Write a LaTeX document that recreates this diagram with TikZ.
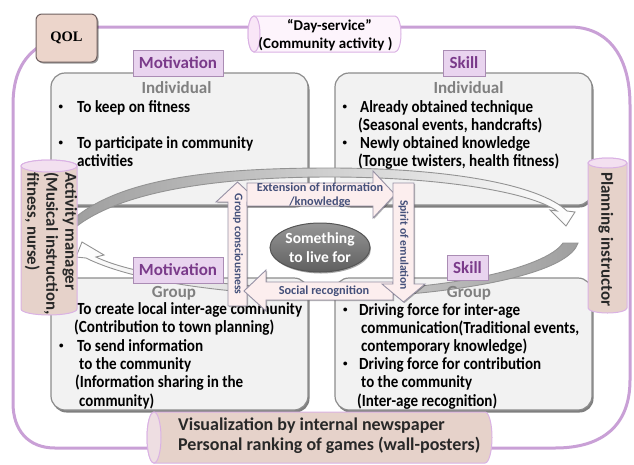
\documentclass[tikz,border=0pt]{standalone}
\usepackage{fontspec}
\usepackage{graphicx}
\setmainfont{Carlito}[BoldFont={Carlito Bold}]
\newfontfamily\qolfont{Liberation Serif}
\usetikzlibrary{shapes.geometric,shadows}
\definecolor{qolc}{RGB}{201,160,214}
\definecolor{boxfill}{RGB}{242,242,242}
\definecolor{boxdraw}{RGB}{140,140,140}
\definecolor{labfill}{RGB}{233,212,239}
\definecolor{labdraw}{RGB}{170,140,180}
\definecolor{labtext}{RGB}{122,58,138}
\definecolor{cylfill}{RGB}{230,210,202}
\definecolor{cylcap}{RGB}{243,224,240}
\definecolor{cyledge}{RGB}{218,178,228}
\definecolor{dayfill}{RGB}{253,244,252}
\definecolor{arrfill}{RGB}{252,238,238}
\definecolor{arrdraw}{RGB}{150,145,165}
\definecolor{arrtext}{RGB}{68,80,122}
\definecolor{qolfill}{RGB}{236,213,203}
\definecolor{qoldraw}{RGB}{110,95,95}
\definecolor{ttl}{RGB}{128,128,128}
\definecolor{dark}{RGB}{40,40,40}
\newcommand{\fw}[2]{\resizebox{#1pt}{\height}{#2}}
\newcommand{\bul}{\raisebox{2.5pt}{\fontsize{9}{9}\selectfont •}}
\tikzset{
  bigbox/.style={draw=boxdraw, line width=1.2pt, fill=boxfill, rounded corners=14pt,
    drop shadow={shadow xshift=1.5pt, shadow yshift=-2.5pt, fill=black, opacity=0.5}},
  lbl/.style={draw=labdraw, line width=1pt, fill=labfill, text=labtext, inner sep=0pt,
    font=\bfseries\fontsize{17}{18}\selectfont,
    drop shadow={shadow xshift=1pt, shadow yshift=-1pt, fill=black, opacity=0.35}},
  ln/.style={anchor=base west, inner sep=0pt, text=black, font=\bfseries\fontsize{17}{18}\selectfont},
  ttlt/.style={anchor=base, inner sep=0pt, text=ttl, font=\bfseries\fontsize{17}{18}\selectfont},
  blockarr/.style={draw=arrdraw, line width=0.9pt, fill=arrfill,
    drop shadow={shadow xshift=1pt, shadow yshift=-1pt, fill=black, opacity=0.3}},
  arrlab/.style={inner sep=0pt, text=arrtext, font=\bfseries\fontsize{12.3}{14.5}\selectfont},
  varrlab/.style={inner sep=0pt, text=arrtext, rotate=-90, font=\bfseries\fontsize{11.6}{14}\selectfont},
  carrow/.style={draw=gray!85, line width=0.9pt},
  cylbody/.style={draw=cyledge, line width=1pt, fill=cylfill},
  cyltop/.style={draw=cyledge, line width=1pt, fill=cylcap},
  cyltext/.style={inner sep=0pt, text=dark, font=\bfseries\fontsize{17}{19}\selectfont}
}
\begin{document}
\begin{tikzpicture}[x=1pt,y=-1pt]
\useasboundingbox (0,0) rectangle (634,464);
% QOL frame
\draw[qolc, line width=3pt] (40,46) .. controls (22,58) and (13,76) .. (13,105) -- (13,403)
  .. controls (13,430) and (28,448) .. (55,448) -- (555,448) .. controls (603,448) and (630,425) .. (630,380)
  -- (630,105) .. controls (630,55) and (607,27) .. (570,27) -- (97,27);
% four boxes
\node[bigbox, minimum width=257pt, minimum height=132pt] (indl) at (179.5,139) {};
\node[bigbox, minimum width=257pt, minimum height=132pt] (indr) at (463.5,139) {};
\node[bigbox, minimum width=257pt, minimum height=132pt] (grpl) at (179.5,344) {};
\node[bigbox, minimum width=257pt, minimum height=132pt] (grpr) at (463.5,344) {};
% texts upper left
\node[ln] (b1) at (58.5,112) {\bul};
\node[ln] (l1) at (77,112) {\fw{113}{To keep on fitness}};
\node[ln] (b2) at (58.5,148) {\bul};
\node[ln] (l2) at (77,148) {\fw{176}{To participate in community}};
\node[ln] (l3) at (77,166) {\fw{56}{activities}};
% upper right
\node[ln] (b3) at (342.5,112) {\bul};
\node[ln] (r1) at (360,112) {\fw{173}{Already obtained technique}};
\node[ln] (r2) at (358,130) {\fw{184}{(Seasonal events, handcrafts)}};
\node[ln] (b4) at (342.5,148) {\bul};
\node[ln] (r3) at (360,148) {\fw{170}{Newly obtained knowledge}};
\node[ln] (r4) at (358,166) {\fw{201}{(Tongue twisters, health fitness)}};
% lower left
\node[ln] (b5) at (59,314) {\bul};
\node[ln] (g1) at (77,314) {\fw{225}{To create local inter-age community}};
\node[ln] (g2) at (74,332.5) {\fw{200}{(Contribution to town planning)}};
\node[ln] (b6) at (59,351) {\bul};
\node[ln] (g3) at (77,351) {\fw{126}{To send information}};
\node[ln] (g4) at (79,369) {\fw{112}{to the community}};
\node[ln] (g5) at (75,387.5) {\fw{168}{(Information sharing in the}};
\node[ln] (g6) at (79,406) {\fw{75}{community)}};
% lower right
\node[ln] (b7) at (343,315) {\bul};
\node[ln] (h1) at (359,315) {\fw{161}{Driving force for inter-age}};
\node[ln] (h2) at (361,333) {\fw{218}{communication(Traditional events,}};
\node[ln] (h3) at (361,351) {\fw{166}{contemporary knowledge)}};
\node[ln] (b8) at (343,369) {\bul};
\node[ln] (h4) at (359,369) {\fw{182}{Driving force for contribution}};
\node[ln] (h5) at (361,387) {\fw{111}{to the community}};
\node[ln] (h6) at (357,406) {\fw{140}{(Inter-age recognition)}};
% curved arrows
\path[carrow, left color=gray!75, middle color=gray!45, right color=white]
  (77,226) -- (77,216) .. controls (130,174) and (235,168) .. (330,168)
  .. controls (450,168) and (540,185) .. (567,211) -- (575,212) -- (566,226) -- (550,210) -- (557,211)
  .. controls (530,192) and (440,177) .. (330,177) .. controls (240,177) and (130,186) .. (77,226) -- cycle;
\path[carrow, left color=white, middle color=gray!45, right color=gray!75]
  (563,243) -- (578,243) .. controls (570,268) and (500,285) .. (420,293)
  .. controls (300,302) and (150,290) .. (86,258) -- (76,257) -- (82,242) -- (104,255) -- (96,257)
  .. controls (150,283) and (300,294) .. (420,286) .. controls (490,279) and (550,262) .. (563,243) -- cycle;
% box titles
\node[ttlt] (ti1) at (176.5,93) {Individual};
\node[ttlt] (ti2) at (468.5,93) {Individual};
\node[ttlt] (tg1) at (174,297) {Group};
\node[ttlt] (tg2) at (469,297) {Group};
% labels
\node[lbl, minimum width=90pt, minimum height=26pt] (mot1) at (178,63) {Motivation};
\node[lbl, minimum width=42pt, minimum height=26pt] (sk1) at (464,63) {Skill};
\node[lbl, minimum width=90pt, minimum height=26pt] (mot2) at (178,270) {Motivation};
\node[lbl, minimum width=41pt, minimum height=25pt] (sk2) at (467.5,267.5) {Skill};
% block arrows
\path[blockarr] (228,306) -- (228,202) -- (216,202) -- (237.5,182) -- (259,202) -- (247,202) -- (247,306) -- cycle;
\path[blockarr] (247,183) -- (373,183) -- (373,171) -- (395,194.5) -- (373,218) -- (373,206) -- (247,206) -- cycle;
\path[blockarr] (393,282) -- (266,282) -- (266,270) -- (244,291) -- (266,311) -- (266,300) -- (393,300) -- cycle;
\path[blockarr] (393,183) -- (414,183) -- (414,284) -- (425,284) -- (403.5,302) -- (382,284) -- (393,284) -- cycle;
\node[varrlab] (agc) at (238,244) {Group consciousness};
\node[arrlab, align=center] (aext) at (320,195) {Extension of information\\/knowledge};
\node[arrlab] (asoc) at (324,291) {Social recognition};
\node[varrlab] (aspi) at (403.5,245) {Spirit of emulation};
% centre ellipse
\node[ellipse, draw={rgb,255:red,85;green,85;blue,85}, line width=1pt,
  top color={rgb,255:red,150;green,150;blue,150}, bottom color={rgb,255:red,95;green,95;blue,95},
  minimum width=100pt, minimum height=49pt, inner sep=0pt, align=center, text=white,
  font=\bfseries\fontsize{15.5}{19}\selectfont,
  drop shadow={shadow xshift=1pt, shadow yshift=-1.5pt, fill=black, opacity=0.35}] (live) at (320,247.5) {Something\\to live for};
% QOL box
\node[draw=qoldraw, line width=1pt, fill=qolfill, rounded corners=6pt, minimum width=61pt, minimum height=48pt,
  font=\qolfont\bfseries\fontsize{14.5}{17}\selectfont, text=black,
  drop shadow={shadow xshift=1.5pt, shadow yshift=-1.5pt, fill=black, opacity=0.4}] (qol) at (66.5,38) {QOL};
% Day-service cylinder
\path[draw=cyledge, line width=1pt, fill=dayfill] (254,16) -- (395,16) arc[start angle=-90, end angle=90, x radius=6, y radius=18]
  -- (254,52) arc[start angle=90, end angle=270, x radius=6, y radius=18] -- cycle;
\draw[draw=cyledge, line width=1pt, fill={rgb,255:red,249;green,230;blue,247}] (254,34) ellipse[x radius=6, y radius=18];
\node[inner sep=0pt, anchor=base, text=black, font=\bfseries\fontsize{15}{18}\selectfont] (day1) at (329.5,30) {“Day-service”};
\node[inner sep=0pt, anchor=base, text=black, font=\bfseries\fontsize{15}{18}\selectfont] (day2) at (325.5,48) {(Community activity )};
% Activity manager cylinder
\path[cylbody] (21,166) -- (21,309) arc[start angle=180, end angle=0, x radius=28, y radius=6]
  -- (77,166) arc[start angle=0, end angle=-180, x radius=28, y radius=6] -- cycle;
\draw[cyltop] (49,166) ellipse[x radius=28, y radius=6];
\node[cyltext, rotate=-90, anchor=north west, align=left, font=\bfseries\fontsize{16.8}{19}\selectfont] (actm) at (77.5,172)
  {Activity manager\\(Musical instruction,\\fitness, nurse)};
% Planning instructor cylinder
\path[cylbody] (588,163) -- (588,308) arc[start angle=180, end angle=0, x radius=19.5, y radius=5]
  -- (627,163) arc[start angle=0, end angle=-180, x radius=19.5, y radius=5] -- cycle;
\draw[cyltop] (607.5,163) ellipse[x radius=19.5, y radius=5];
\node[cyltext, rotate=-90, anchor=west] (plan) at (606,172) {Planning instructor};
% bottom cylinder
\path[cylbody] (154,412) -- (485,412) arc[start angle=-90, end angle=90, x radius=7, y radius=25.5]
  -- (154,463) arc[start angle=90, end angle=270, x radius=7, y radius=25.5] -- cycle;
\draw[cyltop, fill={rgb,255:red,238;green,222;blue,226}] (154,437.5) ellipse[x radius=7, y radius=25.5];
\node[cyltext, anchor=base west, font=\bfseries\fontsize{18}{20}\selectfont] (vis1) at (178,430) {Visualization by internal newspaper};
\node[cyltext, anchor=base west, font=\bfseries\fontsize{18}{20}\selectfont] (vis2) at (178,450) {Personal ranking of games (wall-posters)};
\end{tikzpicture}
\end{document}
